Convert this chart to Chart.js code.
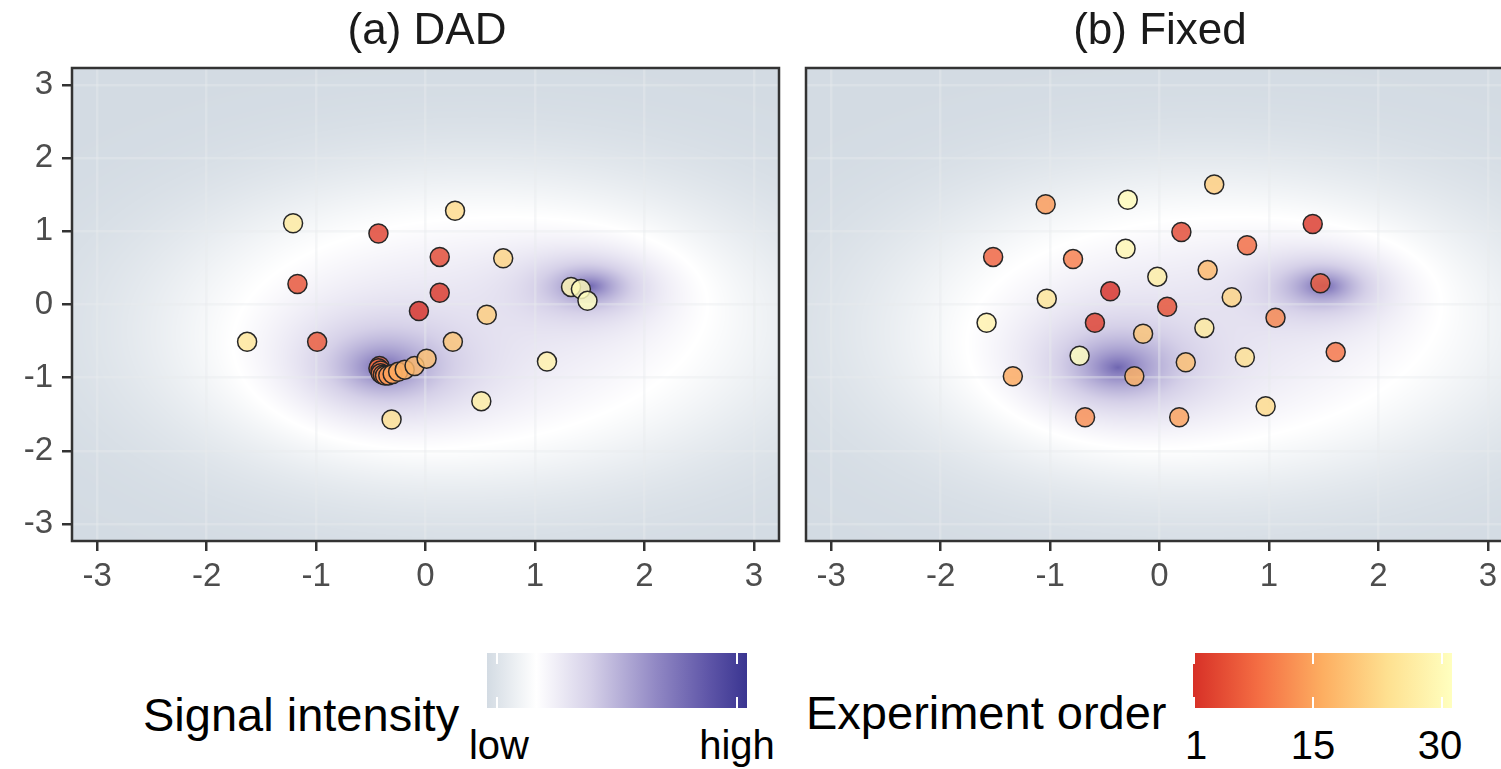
<!DOCTYPE html>
<html>
<head>
<meta charset="utf-8">
<script src="https://cdn.jsdelivr.net/npm/chart.js@4.4.1/dist/chart.umd.min.js"></script>
<style>
  html, body { margin: 0; padding: 0; width: 1501px; height: 769px; overflow: hidden; background: #fff; }
  body { position: relative; font-family: "Liberation Sans", Arial, sans-serif; color: #000; }
  .panel { position: absolute; top: 0; width: 790px; height: 610px; }
  #panelA { left: 0; }
  #panelB { left: 734px; }
  .title { position: absolute; top: 5px; width: 300px; text-align: center; font-size: 44px; line-height: 48px; color: #1a1a1a; }
  .legend-title { position: absolute; font-size: 47px; line-height: 54px; white-space: nowrap; }
  .bar { position: absolute; top: 653px; height: 55px; }
  .bar i { position: absolute; width: 2px; height: 11px; background: #fff; }
  .lab { position: absolute; top: 722px; width: 100px; text-align: center; font-size: 40px; line-height: 46px; }
</style>
</head>
<body>
<div class="panel" id="panelA"><canvas id="chartA"></canvas></div>
<div class="panel" id="panelB"><canvas id="chartB"></canvas></div>

<div class="title" style="left:277px">(a) DAD</div>
<div class="title" style="left:1010px">(b) Fixed</div>

<div class="legend-title" style="left:143px; top:688px">Signal intensity</div>
<div class="bar" id="barSignal" style="left:487px; width:260px"></div>
<div class="lab" style="left:449px">low</div>
<div class="lab" style="left:687px">high</div>

<div class="legend-title" style="left:806px; top:686px">Experiment order</div>
<div class="bar" id="barOrder" style="left:1193px; width:259px"></div>
<div class="lab" style="left:1146px">1</div>
<div class="lab" style="left:1263px">15</div>
<div class="lab" style="left:1390px">30</div>

<script>
const tickValues = [-3, -2, -1, 0, 1, 2, 3];
const experimentOrder = [1, 2, 3, 4, 5, 6, 7, 8, 9, 10, 11, 12, 13, 14, 15, 16, 17, 18, 19, 20, 21, 22, 23, 24, 25, 26, 27, 28, 29, 30];

// (a) DAD design points, listed in experiment order
const dadX = [-0.06, 0.13, -0.43, 0.13, -1.17, -0.99, -0.42, -0.43, -0.41, -0.41, -0.39, -0.37, -0.34, -0.30, -0.25,
  -0.19, -0.10, 0.01, 0.25, 0.56, 0.71, 0.27, -0.31, -1.63, -1.21, 0.51, 1.11, 1.33, 1.42, 1.48];
const dadY = [-0.09, 0.16, 0.97, 0.65, 0.28, -0.51, -0.84, -0.87, -0.90, -0.94, -0.96, -0.97, -0.97, -0.95, -0.92,
  -0.89, -0.84, -0.74, -0.51, -0.14, 0.63, 1.28, -1.57, -0.51, 1.11, -1.32, -0.78, 0.24, 0.21, 0.05];

// (b) Fixed design points, listed in experiment order
const fixedX = [-0.45, 1.40, -0.59, 0.20, 0.07, 1.47, -1.52, 0.80, 1.61, -0.79, 1.06, -0.68, -1.04, 0.18, -1.34,
  -0.23, 0.44, 0.24, -0.15, 0.50, 0.66, 0.97, 0.78, -1.03, 0.41, -0.02, -1.58, -0.31, -0.29, -0.73];
const fixedY = [0.18, 1.10, -0.25, 0.99, -0.03, 0.29, 0.65, 0.81, -0.65, 0.62, -0.18, -1.54, 1.37, -1.54, -0.98,
  -0.98, 0.47, -0.79, -0.40, 1.64, 0.10, -1.39, -0.72, 0.08, -0.32, 0.38, -0.25, 0.76, 1.43, -0.70];

// signal surface: broad flat-topped base plus two peaks
const baseCenter = [0.45, -0.3];
const baseSpread = [2.3, 1.7];
const baseLevel = 0.25;
const peakX = [1.5, -0.38];
const peakY = [0.25, -0.86];
const peakSx = [0.36, 0.5];
const peakSy = [0.28, 0.44];
const peakLevel = [0.55, 0.55];

const signalStops = [0, 0.19, 0.4, 0.65, 0.85, 1];
const signalColors = ['#d3dbe3', '#ffffff', '#d5d0e8', '#9188c4', '#5f56a8', '#3a3591'];
const orderStops = [0, 0.25, 0.5, 0.75, 1];
const orderColors = ['#d73027', '#f46d43', '#fdae61', '#fee090', '#ffffbf'];

const FONT = '"Liberation Sans", Arial, sans-serif';

function hexRgb(h) {
  return [parseInt(h.slice(1, 3), 16), parseInt(h.slice(3, 5), 16), parseInt(h.slice(5, 7), 16)];
}

function ramp(stops, colors, t) {
  t = Math.max(0, Math.min(1, t));
  let k = 0;
  while (k < stops.length - 2 && t > stops[k + 1]) k++;
  const f = (t - stops[k]) / (stops[k + 1] - stops[k]);
  const a = hexRgb(colors[k]), b = hexRgb(colors[k + 1]);
  return a.map((v, i) => Math.round(v + (b[i] - v) * f));
}

function signalAt(x, y) {
  const bx = (x - baseCenter[0]) / baseSpread[0];
  const by = (y - baseCenter[1]) / baseSpread[1];
  const r2 = bx * bx + by * by;
  let v = baseLevel * Math.exp(-0.5 * Math.pow(r2, 1.5));
  for (let k = 0; k < peakX.length; k++) {
    const dx = (x - peakX[k]) / peakSx[k];
    const dy = (y - peakY[k]) / peakSy[k];
    v += peakLevel[k] * Math.exp(-Math.sqrt(dx * dx + dy * dy));
  }
  return v;
}

function orderColor(o, alpha) {
  const c = ramp(orderStops, orderColors, (o - 1) / 29);
  return `rgba(${c[0]}, ${c[1]}, ${c[2]}, ${alpha})`;
}

const fieldPlugin = {
  id: 'signalField',
  beforeDraw(chart) {
    const { ctx, chartArea: a, scales } = chart;
    const w = Math.round(a.right - a.left);
    const h = Math.round(a.bottom - a.top);
    if (!chart.$field || chart.$field.width !== w || chart.$field.height !== h) {
      const off = document.createElement('canvas');
      off.width = w;
      off.height = h;
      const octx = off.getContext('2d');
      const img = octx.createImageData(w, h);
      for (let j = 0; j < h; j++) {
        const yv = scales.y.getValueForPixel(a.top + j + 0.5);
        for (let i = 0; i < w; i++) {
          const xv = scales.x.getValueForPixel(a.left + i + 0.5);
          const c = ramp(signalStops, signalColors, signalAt(xv, yv));
          const p = (j * w + i) * 4;
          img.data[p] = c[0];
          img.data[p + 1] = c[1];
          img.data[p + 2] = c[2];
          img.data[p + 3] = 255;
        }
      }
      octx.putImageData(img, 0, 0);
      chart.$field = off;
    }
    ctx.drawImage(chart.$field, a.left, a.top);
  },
  afterDraw(chart) {
    const { ctx, chartArea: a } = chart;
    ctx.save();
    ctx.strokeStyle = '#333333';
    ctx.lineWidth = 2.5;
    ctx.strokeRect(a.left, a.top, a.right - a.left, a.bottom - a.top);
    ctx.restore();
  },
};

function axisOptions(isX, showLabels) {
  return {
    type: 'linear',
    min: -3.23,
    max: 3.23,
    afterBuildTicks: (axis) => { axis.ticks = tickValues.map((v) => ({ value: v })); },
    afterFit: (axis) => { if (isX) axis.height = 60; else axis.width = 72; },
    border: { display: false },
    grid: {
      color: 'rgba(232, 234, 238, 0.4)',
      lineWidth: 2.5,
      drawTicks: showLabels,
      tickColor: '#333333',
      tickWidth: 2.5,
      tickLength: 10,
    },
    ticks: {
      display: showLabels,
      color: '#4d4d4d',
      font: { family: FONT, size: 33 },
      padding: isX ? 6 : 9,
      autoSkip: false,
      maxRotation: 0,
    },
  };
}

function makePanel(id, xs, ys, showY) {
  const points = xs.map((x, i) => ({ x, y: ys[i] }));
  new Chart(document.getElementById(id), {
    type: 'scatter',
    data: {
      datasets: [{
        data: points,
        pointRadius: 9.5,
        pointHoverRadius: 9.5,
        pointBackgroundColor: experimentOrder.map((o) => orderColor(o, 0.82)),
        pointBorderColor: '#262626',
        pointBorderWidth: 1.5,
      }],
    },
    options: {
      responsive: true,
      maintainAspectRatio: false,
      animation: false,
      layout: { padding: { top: 68, right: 10, bottom: 9, left: 0 } },
      plugins: { legend: { display: false }, tooltip: { enabled: false } },
      scales: { x: axisOptions(true, true), y: axisOptions(false, showY) },
    },
    plugins: [fieldPlugin],
  });
}

function gradientCss(stops, colors) {
  return 'linear-gradient(to right, ' + colors.map((c, i) => `${c} ${stops[i] * 100}%`).join(', ') + ')';
}

function initLegends() {
  const sig = document.getElementById('barSignal');
  sig.style.background = gradientCss(signalStops, signalColors);
  const ord = document.getElementById('barOrder');
  ord.style.background = gradientCss(orderStops, orderColors);
  const marks = [[sig, [10, 250]], [ord, [1, 120, 249]]];
  marks.forEach(([bar, xs]) => {
    xs.forEach((x) => {
      ['0px', '44px'].forEach((top) => {
        const m = document.createElement('i');
        m.style.left = `${x - 1}px`;
        m.style.top = top;
        bar.appendChild(m);
      });
    });
  });
}

window.addEventListener('DOMContentLoaded', () => {
  makePanel('chartA', dadX, dadY, true);
  makePanel('chartB', fixedX, fixedY, false);
  initLegends();
});
</script>
</body>
</html>
